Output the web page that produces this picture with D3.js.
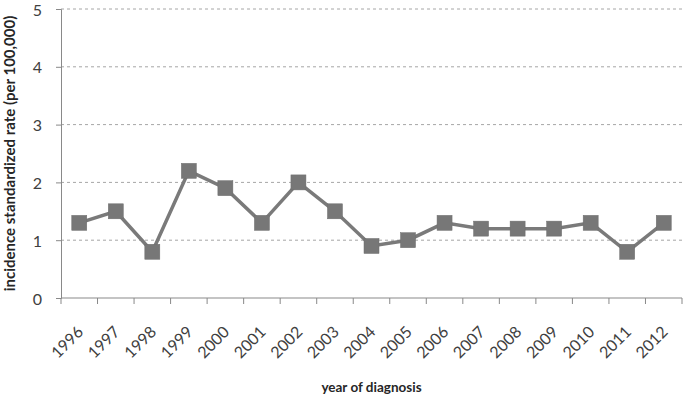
<!DOCTYPE html>
<html><head><meta charset="utf-8">
<script src="https://cdn.jsdelivr.net/npm/d3@7"></script>
<style>body{margin:0;background:#fff;} text{font-family:Lato,"Open Sans",sans-serif;}</style>
</head><body><svg id="c" width="685" height="400"></svg>
<script>
const years = ["1996","1997","1998","1999","2000","2001","2002","2003","2004","2005","2006","2007","2008","2009","2010","2011","2012"];
const rates = [1.3,1.5,0.8,2.2,1.9,1.3,2.0,1.5,0.9,1.0,1.3,1.2,1.2,1.2,1.3,0.8,1.3];
const yTicks = [0,1,2,3,4,5];

(function(){
const svg = d3.select("#c");
const mL = 61, mR = 682, mT = 9, mB = 298;
const x = d3.scaleBand().domain(years).range([mL, mR]);
const y = d3.scaleLinear().domain([0,5]).range([mB, mT]);
const grey = "#898989";

// gridlines
svg.append("g").selectAll("line").data(yTicks.filter(d=>d>0)).join("line")
  .attr("x1", mL).attr("x2", mR).attr("y1", d=>y(d)).attr("y2", d=>y(d))
  .attr("stroke", "#a6a6a6").attr("stroke-dasharray", "3,3").attr("stroke-width", 1);

// y axis
const ya = svg.append("g").attr("transform", `translate(${mL},0)`)
  .call(d3.axisLeft(y).tickValues(yTicks).tickSize(5).tickPadding(14).tickFormat(d3.format("d")));
ya.select(".domain").attr("stroke", grey);
ya.selectAll(".tick line").attr("stroke", grey);
ya.selectAll("text").attr("font-size", 16).attr("fill", "#404040").attr("dy","0.38em").style("font-family","Lato,sans-serif");

// x axis
const xa = svg.append("g").attr("transform", `translate(0,${mB})`);
xa.append("line").attr("x1", mL).attr("x2", mR).attr("stroke", grey);
const bounds = years.map(d=>x(d)).concat([mR]);
xa.selectAll("line.tk").data(bounds).join("line").attr("class","tk")
  .attr("x1", d=>d).attr("x2", d=>d).attr("y1", 0).attr("y2", 6).attr("stroke", grey);
xa.selectAll("text").data(years).join("text")
  .attr("transform", d=>`translate(${x(d)+x.bandwidth()/2+5},${35}) rotate(-45)`)
  .attr("text-anchor", "end").attr("font-size", 16).attr("fill", "#404040").text(d=>d);

// line
const cx = d => x(d) + x.bandwidth()/2;
svg.append("path").datum(rates)
  .attr("d", d3.line().x((d,i)=>cx(years[i])).y(d=>y(d)))
  .attr("fill", "none").attr("stroke", "#7a7a7a").attr("stroke-width", 3.5);
svg.append("g").selectAll("rect").data(rates).join("rect")
  .attr("x", (d,i)=>cx(years[i])-7.5).attr("y", d=>y(d)-7.5)
  .attr("width", 15).attr("height", 15).attr("fill", "#777777").attr("stroke","#6e6e6e").attr("stroke-width",0.5);

// titles
svg.append("text").attr("x", (mL+mR)/2).attr("y", 392).attr("text-anchor","middle")
  .attr("font-size", 13.5).attr("font-weight","bold").attr("fill","#262626").text("year of diagnosis");
svg.append("text").attr("transform", `translate(15,${(mT+mB)/2}) rotate(-90)`)
  .attr("text-anchor","middle").attr("font-size", 15).attr("font-weight","bold").attr("fill","#262626")
  .text("incidence standardized rate (per 100,000)");
})();
</script></body></html>
